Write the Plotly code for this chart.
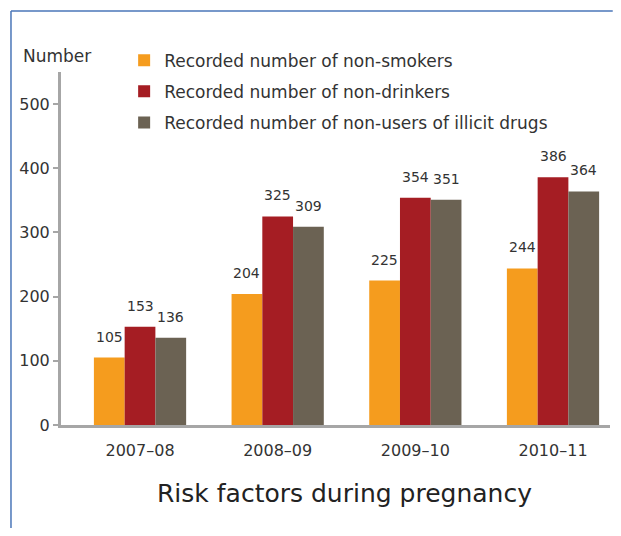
import plotly.graph_objects as go

years = ["2007–08", "2008–09", "2009–10", "2010–11"]
non_smokers = [105, 204, 225, 244]
non_drinkers = [153, 325, 354, 386]
non_drug_users = [136, 309, 351, 364]

series_names = [
    "Recorded number of non-smokers",
    "Recorded number of non-drinkers",
    "Recorded number of non-users of illicit drugs",
]
colors = ["#F59C1E", "#A51D23", "#6B6253"]

FONT = "DejaVu Sans"
BAR_PX = 30.7  # width of one bar in pixels, for label offsets

fig = go.Figure()
labels = []
all_series = [non_smokers, non_drinkers, non_drug_users]
for i, (name, vals, col) in enumerate(zip(series_names, all_series, colors)):
    fig.add_trace(go.Bar(
        x=years,
        y=vals,
        name=name,
        legendgroup=str(i),
        marker=dict(color=col, line=dict(width=0)),
    ))
    for yr, v in zip(years, vals):
        labels.append(dict(
            x=yr, y=v, text=str(v), xref="x", yref="y",
            xshift=(i - 1) * BAR_PX, yshift=11,
            xanchor="center", yanchor="bottom", showarrow=False,
            font=dict(family=FONT, size=14, color="#333333"),
        ))

# page body has an 8px margin, so the figure is 16px smaller and margins shifted
fig.update_layout(
    width=605,
    height=520,
    margin=dict(l=53, r=3, t=64, b=103),
    paper_bgcolor="white",
    plot_bgcolor="white",
    barmode="group",
    bargap=0.33,
    bargroupgap=0,
    font=dict(family=FONT, color="#333333"),
    showlegend=True,
    legend=dict(
        x=0.115, y=1.083, xanchor="left", yanchor="top",
        font=dict(family=FONT, size=17, color="#333333"),
        tracegroupgap=6,
        bgcolor="rgba(0,0,0,0)",
    ),
    xaxis=dict(
        range=[-0.574, 3.414],
        showline=True, linecolor="#A6A6A6", linewidth=3,
        ticks="", showgrid=False, ticklabelstandoff=9,
        tickfont=dict(family=FONT, size=16, color="#333333"),
    ),
    yaxis=dict(
        range=[0, 550],
        tickvals=[0, 100, 200, 300, 400, 500],
        showline=True, linecolor="#A6A6A6", linewidth=3,
        ticks="outside", ticklen=5, tickcolor="#A6A6A6", tickwidth=2,
        showgrid=False, zeroline=False,
        tickfont=dict(family=FONT, size=16, color="#333333"),
    ),
    annotations=labels + [
        dict(text="Number", xref="paper", yref="paper", x=0.058, y=1.045,
             xanchor="right", yanchor="middle", showarrow=False,
             font=dict(family=FONT, size=17, color="#333333")),
        dict(text="Risk factors during pregnancy", xref="paper", yref="paper",
             x=0.517, y=-0.193, xanchor="center", yanchor="middle", showarrow=False,
             font=dict(family=FONT, size=25, color="#222222")),
    ],
    shapes=[
        dict(type="line", xref="paper", yref="paper", x0=-0.0911, x1=-0.0911,
             y0=-0.32, y1=1.1728, line=dict(color="#4A76B8", width=1.5)),
        dict(type="line", xref="paper", yref="paper", x0=-0.0911, x1=1.005,
             y0=1.1728, y1=1.1728, line=dict(color="#4A76B8", width=1.5)),
    ],
)

fig.write_html("out.html")
